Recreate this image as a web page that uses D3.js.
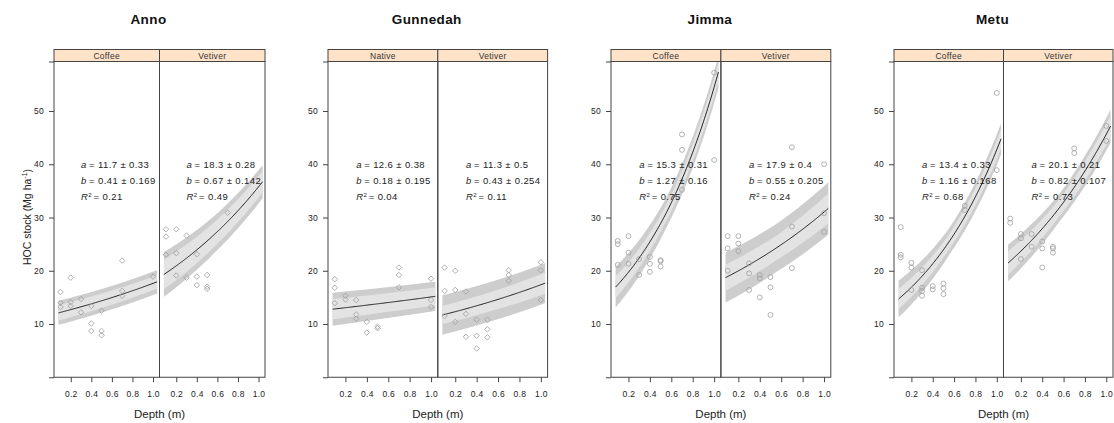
<!DOCTYPE html>
<html>
<head>
<meta charset="utf-8">
<script src="https://cdn.jsdelivr.net/npm/d3@7"></script>
<style>
  body { margin: 0; background: #fff; }
  text { font-family: "Liberation Sans", Arial, sans-serif; fill: #222; }
</style>
</head>
<body>
<svg id="chart" width="1114" height="423"></svg>
<script>
// sites and the two land uses shown in each
const sites = ['Anno', 'Gunnedah', 'Jimma', 'Metu'];
const systems = [['Coffee', 'Vetiver'], ['Native', 'Vetiver'], ['Coffee', 'Vetiver'], ['Coffee', 'Vetiver']];

// fitted HOC = a * exp(b * depth), as printed in each panel
const fitA = [[11.7, 18.3], [12.6, 11.3], [15.3, 17.9], [13.4, 20.1]];
const seA = [[0.33, 0.28], [0.38, 0.5], [0.31, 0.4], [0.33, 0.21]];
const fitB = [[0.41, 0.67], [0.18, 0.43], [1.27, 0.55], [1.16, 0.82]];
const seB = [[0.169, 0.142], [0.195, 0.254], [0.16, 0.205], [0.168, 0.107]];
const r2 = [[0.21, 0.49], [0.04, 0.11], [0.75, 0.24], [0.68, 0.73]];

// observed points, depth (m) and HOC stock (Mg ha-1)
const annoCoffeeDepth = [0.1, 0.1, 0.1, 0.2, 0.2, 0.2, 0.3, 0.3, 0.4, 0.4, 0.4, 0.5, 0.5, 0.5, 0.7, 0.7, 0.7, 1.0];
const annoCoffeeHoc = [16.0, 14.0, 13.2, 18.7, 14.1, 13.4, 14.7, 12.2, 13.4, 10.1, 8.7, 12.5, 8.7, 7.9, 21.9, 16.2, 15.3, 18.9];
const annoVetiverDepth = [0.1, 0.1, 0.1, 0.2, 0.2, 0.2, 0.3, 0.3, 0.4, 0.4, 0.4, 0.5, 0.5, 0.5, 0.7];
const annoVetiverHoc = [27.8, 26.4, 23.0, 27.8, 23.3, 19.1, 26.6, 18.7, 23.1, 18.9, 17.3, 19.2, 17.0, 16.6, 30.9];
const gunNativeDepth = [0.1, 0.1, 0.1, 0.2, 0.2, 0.3, 0.3, 0.3, 0.4, 0.4, 0.5, 0.5, 0.7, 0.7, 0.7, 1.0, 1.0, 1.0];
const gunNativeHoc = [18.4, 16.8, 13.9, 15.3, 14.6, 14.5, 11.8, 11.0, 10.4, 8.4, 9.5, 9.2, 20.6, 19.2, 16.9, 18.5, 14.5, 13.2];
const gunVetiverDepth = [0.1, 0.1, 0.1, 0.2, 0.2, 0.2, 0.3, 0.3, 0.3, 0.4, 0.4, 0.4, 0.5, 0.5, 0.5, 0.7, 0.7, 0.7, 1.0, 1.0, 1.0];
const gunVetiverHoc = [20.6, 16.2, 11.5, 20.0, 16.4, 10.4, 16.1, 11.9, 7.6, 10.8, 7.8, 5.4, 10.8, 9.0, 7.5, 20.1, 19.2, 18.1, 21.6, 20.1, 14.5];
const jimCoffeeDepth = [0.1, 0.1, 0.1, 0.2, 0.2, 0.2, 0.3, 0.3, 0.4, 0.4, 0.4, 0.5, 0.5, 0.5, 0.7, 0.7, 0.7, 1.0, 1.0];
const jimCoffeeHoc = [25.6, 25.0, 21.1, 26.5, 23.4, 21.3, 22.2, 19.2, 22.6, 21.3, 19.8, 22.0, 21.8, 20.8, 45.6, 42.7, 35.2, 40.8, 57.2];
const jimVetiverDepth = [0.1, 0.1, 0.1, 0.2, 0.2, 0.2, 0.3, 0.3, 0.3, 0.4, 0.4, 0.4, 0.5, 0.5, 0.5, 0.7, 0.7, 0.7, 1.0, 1.0, 1.0];
const jimVetiverHoc = [26.5, 24.2, 20.0, 26.5, 25.1, 23.7, 21.4, 19.5, 16.4, 19.2, 18.6, 15.0, 18.8, 16.9, 11.7, 43.2, 28.3, 20.5, 40.0, 30.8, 27.3];
const metCoffeeDepth = [0.1, 0.1, 0.1, 0.2, 0.2, 0.2, 0.3, 0.3, 0.3, 0.3, 0.4, 0.4, 0.5, 0.5, 0.5, 0.7, 0.7, 1.0, 1.0];
const metCoffeeHoc = [28.2, 23.0, 22.5, 21.5, 20.6, 16.4, 20.1, 16.8, 16.2, 15.3, 17.1, 16.5, 17.6, 16.7, 15.6, 31.4, 32.2, 53.4, 38.9];
const metVetiverDepth = [0.1, 0.1, 0.2, 0.2, 0.2, 0.3, 0.3, 0.4, 0.4, 0.4, 0.5, 0.5, 0.5, 0.7, 0.7, 1.0, 1.0];
const metVetiverHoc = [29.8, 29.0, 26.9, 26.1, 22.2, 26.9, 24.5, 25.5, 24.2, 20.6, 24.5, 24.2, 23.4, 43.0, 42.1, 47.2, 44.4];

const pointDepth = [[annoCoffeeDepth, annoVetiverDepth], [gunNativeDepth, gunVetiverDepth],
  [jimCoffeeDepth, jimVetiverDepth], [metCoffeeDepth, metVetiverDepth]];
const pointHoc = [[annoCoffeeHoc, annoVetiverHoc], [gunNativeHoc, gunVetiverHoc],
  [jimCoffeeHoc, jimVetiverHoc], [metCoffeeHoc, metVetiverHoc]];

// band half widths (Mg ha-1) read at the start, middle and end of each curve
const bandDepth = [0.08, 0.56, 1.04];
const outerHalf = [[[2.25, 2.2, 2.2], [4.2, 3.5, 3.1]], [[3.1, 2.9, 2.75], [3.7, 3.7, 3.75]],
  [[3.85, 2.8, 3.0], [4.7, 4.5, 4.9]], [[3.45, 2.5, 2.9], [3.45, 2.6, 3.1]]];
const innerHalf = [[[1.45, 1.35, 1.25], [2.8, 2.3, 2.0]], [[1.9, 1.75, 1.7], [1.7, 1.8, 2.0]],
  [[2.05, 1.5, 1.8], [2.45, 2.3, 2.8]], [[1.9, 1.4, 1.8], [2.2, 1.6, 2.0]]];

const xTicks = [0.2, 0.4, 0.6, 0.8, 1.0];
const yTicks = [10, 20, 30, 40, 50];

// layout
const groupLeft = [54, 328, 611, 894];
const panelW = [105.5, 109.8, 109.9, 109.5];
const plotTop = 61.5, plotBottom = 377.25, stripH = 12;
const yMax = 59.3;

const svg = d3.select('#chart');
const y = d3.scaleLinear().domain([0, yMax]).range([plotBottom, plotTop]);

sites.forEach((site, i) => {
  const gLeft = groupLeft[i];
  const w = panelW[i];

  // site title
  svg.append('text')
    .attr('x', gLeft + w - 11)
    .attr('y', 24)
    .attr('text-anchor', 'middle')
    .style('font-size', '13.5px')
    .style('font-weight', 'bold')
    .style('letter-spacing', '0.4px')
    .style('fill', '#111')
    .text(site);

  // x label
  svg.append('text')
    .attr('x', gLeft + w)
    .attr('y', 418)
    .attr('text-anchor', 'middle')
    .style('font-size', '11.5px')
    .text('Depth (m)');

  // y axis on the left panel of every group
  const yAxis = d3.axisLeft(y)
    .tickValues([0].concat(yTicks, [yMax]))
    .tickSize(5)
    .tickPadding(5)
    .tickFormat(d => yTicks.includes(d) ? d : '');
  const ya = svg.append('g')
    .attr('transform', `translate(${gLeft},0)`)
    .call(yAxis);
  ya.select('.domain').remove();
  ya.selectAll('line').attr('stroke', '#444');
  ya.selectAll('text').style('font-size', '8.5px').style('letter-spacing', '0.3px').style('font-family', '"Liberation Sans", Arial, sans-serif').attr('fill', '#333');

  systems[i].forEach((sys, j) => {
    const x0 = gLeft + j * w;
    const x = d3.scaleLinear().domain([0.037, 1.063]).range([x0, x0 + w]);
    const g = svg.append('g');
    const clipId = `clip-${i}-${j}`;
    g.append('clipPath').attr('id', clipId)
      .append('rect')
      .attr('x', x0).attr('y', plotTop).attr('width', w).attr('height', plotBottom - plotTop);

    const a = fitA[i][j], b = fitB[i][j];
    const fit = d => a * Math.exp(b * d);
    const curveDepth = d3.range(0.08, 1.0401, 0.01);
    const outerHw = d3.scaleLinear().domain(bandDepth).range(outerHalf[i][j]);
    const innerHw = d3.scaleLinear().domain(bandDepth).range(innerHalf[i][j]);

    const plot = g.append('g').attr('clip-path', `url(#${clipId})`);

    plot.append('path')
      .datum(curveDepth)
      .attr('d', d3.area()
        .x(d => x(d))
        .y0(d => y(fit(d) - outerHw(d)))
        .y1(d => y(fit(d) + outerHw(d))))
      .attr('fill', '#cdcdcd');

    plot.append('path')
      .datum(curveDepth)
      .attr('d', d3.area()
        .x(d => x(d))
        .y0(d => y(fit(d) - innerHw(d)))
        .y1(d => y(fit(d) + innerHw(d))))
      .attr('fill', '#e3e3e3');

    plot.append('path')
      .datum(curveDepth)
      .attr('d', d3.line().x(d => x(d)).y(d => y(fit(d))))
      .attr('fill', 'none')
      .attr('stroke', '#111')
      .attr('stroke-width', 0.9);

    // observed points: diamonds for the first two sites, circles for the others
    const pts = pointDepth[i][j].map((d, k) => [d, pointHoc[i][j][k]]);
    const diamond = i < 2;
    plot.selectAll('path.pt')
      .data(pts)
      .enter()
      .append('path')
      .attr('class', 'pt')
      .attr('d', diamond ? d3.symbol(d3.symbolSquare, 15)() : d3.symbol(d3.symbolCircle, 19)())
      .attr('transform', d => `translate(${x(d[0])},${y(d[1])})${diamond ? ' rotate(45)' : ''}`)
      .attr('fill', 'none')
      .attr('stroke', '#a0a0a0')
      .attr('stroke-width', 0.8);

    // fit annotation
    const ax = x(0.30);
    const ay = y(40) + 3.5;
    const ann = g.append('g').style('font-size', '9.5px').style('letter-spacing', '0.4px');
    ann.append('text').attr('x', ax).attr('y', ay).style('font-style', 'italic').text('a');
    ann.append('text').attr('x', ax + 8).attr('y', ay).text(`= ${a} \u00b1 ${seA[i][j]}`);
    ann.append('text').attr('x', ax).attr('y', ay + 16.5).style('font-style', 'italic').text('b');
    ann.append('text').attr('x', ax + 8).attr('y', ay + 16.5).text(`= ${b} \u00b1 ${seB[i][j]}`);
    const rt = ann.append('text').attr('x', ax).attr('y', ay + 32.5);
    rt.append('tspan').style('font-style', 'italic').text('R');
    rt.append('tspan').attr('dy', -3.5).style('font-size', '6px').text('2');
    ann.append('text').attr('x', ax + 12.5).attr('y', ay + 32.5).text(`= ${r2[i][j]}`);

    // panel frame
    g.append('rect')
      .attr('x', x0).attr('y', plotTop).attr('width', w).attr('height', plotBottom - plotTop)
      .attr('fill', 'none').attr('stroke', '#444').attr('stroke-width', 1);

    // strip
    g.append('rect')
      .attr('x', x0).attr('y', plotTop - stripH).attr('width', w).attr('height', stripH)
      .attr('fill', '#ffe3c8').attr('stroke', '#444').attr('stroke-width', 1);
    g.append('text')
      .attr('x', x0 + w / 2).attr('y', plotTop - 3)
      .attr('text-anchor', 'middle')
      .style('font-size', '8.5px')
      .style('letter-spacing', '0.3px')
      .style('fill', '#333')
      .text(sys);

    // x axis
    const xa = g.append('g')
      .attr('transform', `translate(0,${plotBottom})`)
      .call(d3.axisBottom(x).tickValues(xTicks).tickSize(5).tickPadding(9).tickFormat(d3.format('.1f')));
    xa.select('.domain').remove();
    xa.selectAll('line').attr('stroke', '#444');
    xa.selectAll('text').style('font-size', '8.5px').style('letter-spacing', '0.3px').style('font-family', '"Liberation Sans", Arial, sans-serif').attr('fill', '#333');
  });
});

// y label, only on the first site
svg.append('text')
  .attr('transform', 'translate(31,217) rotate(-90)')
  .attr('text-anchor', 'middle')
  .style('font-size', '10.5px')
  .call(t => {
    t.append('tspan').text('HOC stock (Mg ha');
    t.append('tspan').attr('dy', -4).style('font-size', '7px').text('-1');
    t.append('tspan').attr('dy', 4).text(')');
  });
</script>
</body>
</html>
